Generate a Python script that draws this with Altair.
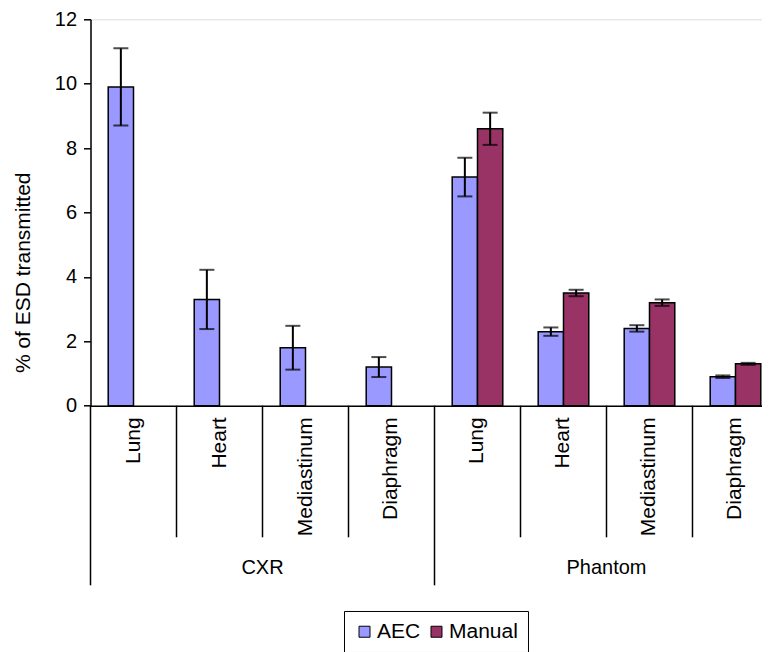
import altair as alt
import pandas as pd

# ---- data ----
groups = ["CXR", "CXR", "CXR", "CXR", "Phantom", "Phantom", "Phantom", "Phantom"]
organs = ["Lung", "Heart", "Mediastinum", "Diaphragm", "Lung", "Heart", "Mediastinum", "Diaphragm"]
aec_mean = [9.9, 3.3, 1.8, 1.2, 7.1, 2.3, 2.4, 0.9]
aec_err = [1.2, 0.92, 0.68, 0.31, 0.6, 0.13, 0.1, 0.04]
manual_mean = [None, None, None, None, 8.6, 3.5, 3.2, 1.3]
manual_err = [None, None, None, None, 0.5, 0.1, 0.1, 0.03]
series_names = ["AEC", "Manual"]
series_colors = ["#9999FF", "#993366"]
y_ticks = [0, 2, 4, 6, 8, 10, 12]

FONT = "Liberation Sans"

keys = [f"{g}|{o}" for g, o in zip(groups, organs)]

rows = []
for i, k in enumerate(keys):
    rows.append(dict(key=k, series="AEC", mean=aec_mean[i],
                     lo=aec_mean[i] - aec_err[i], hi=aec_mean[i] + aec_err[i]))
    if manual_mean[i] is not None:
        rows.append(dict(key=k, series="Manual", mean=manual_mean[i],
                         lo=manual_mean[i] - manual_err[i], hi=manual_mean[i] + manual_err[i]))
df = pd.DataFrame(rows)

labels_df = pd.DataFrame({"key": keys, "organ": organs})
inner_sep = pd.DataFrame({"key": [k for i, k in enumerate(keys) if i % 4 != 0]})
group_sep = pd.DataFrame({"key": [k for i, k in enumerate(keys) if i % 4 == 0]})
group_lab = pd.DataFrame({"key": [keys[2], keys[6]], "group": ["CXR", "Phantom"]})

H = 386.4
W = 671.5          # visible part of the plot (the category axis runs past the right edge)
XRANGE = 688       # full length of the category axis
xscale = alt.Scale(domain=keys, range=[0, XRANGE], paddingInner=0, paddingOuter=0)
xaxis = alt.Axis(labels=False, ticks=False, title=None, grid=False,
                 domainColor="black", domainWidth=1.5)
yscale = alt.Scale(domain=[0, 12], nice=False, zero=True)
yaxis = alt.Axis(values=y_ticks, format="d", grid=False, title="% of ESD transmitted",
                 labelFontSize=20, labelFont=FONT, labelColor="black", labelPadding=7,
                 tickSize=7, tickColor="black", tickWidth=1.5,
                 domainColor="black", domainWidth=1.5,
                 titleFont=FONT, titleFontSize=21, titleFontWeight="normal", titleColor="black",
                 titleAngle=270, titleX=-67.5, titleY=253, titleAlign="center",
                 titleBaseline="middle")
xo = alt.XOffset("series:N", scale=alt.Scale(domain=series_names, paddingOuter=0.7, paddingInner=0))
X = alt.X("key:N", scale=xscale, axis=xaxis, sort=keys)

base = alt.Chart(df)

bars = base.mark_bar(stroke="black", strokeWidth=1.5).encode(
    x=X, xOffset=xo,
    y=alt.Y("mean:Q", scale=yscale, axis=yaxis),
    color=alt.Color("series:N", scale=alt.Scale(domain=series_names, range=series_colors),
                    legend=alt.Legend(orient="none", legendX=253.5, legendY=591.7,
                                      direction="horizontal", title=None,
                                      strokeColor="black", padding=10,
                                      symbolType="square", symbolSize=121,
                                      symbolStrokeColor="black", symbolStrokeWidth=1,
                                      labelFont=FONT, labelFontSize=21, labelColor="black",
                                      labelOffset=2, columnPadding=5)),
)
whisk = base.mark_rule(color="black", strokeWidth=2).encode(
    x=X, xOffset=xo,
    y=alt.Y("lo:Q", scale=yscale, axis=yaxis), y2="hi:Q",
)
cap_hi = base.mark_tick(color="black", thickness=2, size=15, orient="horizontal").encode(
    x=X, xOffset=xo, y=alt.Y("hi:Q", scale=yscale, axis=yaxis))
cap_lo = base.mark_tick(color="black", thickness=2, size=15, orient="horizontal").encode(
    x=X, xOffset=xo, y=alt.Y("lo:Q", scale=yscale, axis=yaxis))

sep_x = alt.X("key:N", scale=xscale, axis=xaxis, sort=keys, bandPosition=0)
inner_rules = alt.Chart(inner_sep).mark_rule(color="black", strokeWidth=1.5).encode(
    x=sep_x, y=alt.value(H), y2=alt.value(518))
group_rules = alt.Chart(group_sep).mark_rule(color="black", strokeWidth=1.5).encode(
    x=sep_x, y=alt.value(H), y2=alt.value(566))

inner_text = alt.Chart(labels_df).mark_text(
    angle=270, align="right", baseline="middle", font=FONT, fontSize=21, color="black"
).encode(x=X, y=alt.value(398), text="organ:N")

group_text = alt.Chart(group_lab).mark_text(
    align="center", baseline="middle", font=FONT, fontSize=20, color="black"
).encode(x=sep_x, y=alt.value(549), text="group:N")

chart = alt.layer(
    inner_rules, group_rules, bars, whisk, cap_hi, cap_lo, inner_text, group_text
).properties(
    width=W, height=H,
    autosize=alt.AutoSizeParams(type="none"),
    padding={"left": 82.5, "top": 11.3, "right": 0, "bottom": 246},
).configure_view(stroke=None).configure(background="white")

chart.save("out.html", embed_options={"renderer": "svg", "actions": False})
